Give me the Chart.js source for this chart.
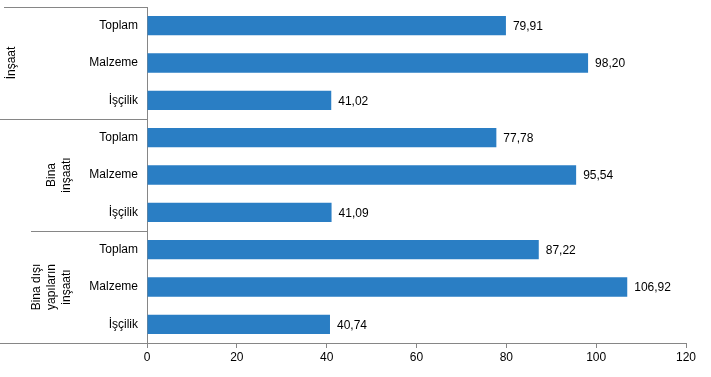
<!DOCTYPE html>
<html>
<head>
<meta charset="utf-8">
<script src="https://cdn.jsdelivr.net/npm/chart.js@4/dist/chart.umd.min.js"></script>
<style>
html,body{margin:0;padding:0;background:#fff}
#wrap{width:711px;height:377px}
</style>
</head>
<body>
<div id="wrap"><canvas id="chart" width="711" height="377"></canvas></div>
<script>
// =============================
// DATA
// =============================

const items = ["Toplam","Malzeme","İşçilik"]
const groups = [["İnşaat"],["Bina","inşaatı"],["Bina dışı","yapıların","inşaatı"]]
const insaat = [79.91,98.20,41.02]
const bina = [77.78,95.54,41.09]
const binaDisi = [87.22,106.92,40.74]
const xTicks = [0,20,40,60,80,100,120]

const labels = [].concat(items,items,items)
const values = [].concat(insaat,bina,binaDisi)

const axisGray = "#868686"
const font = {family:"'Liberation Sans', Arial, sans-serif", size:12}


// =============================
// PLUGINS: value labels + group labels
// =============================

const valueLabels = {
id:"valueLabels",
afterDatasetsDraw(chart){
const ctx = chart.ctx
const meta = chart.getDatasetMeta(0)
ctx.save()
ctx.font = "12px " + font.family
ctx.fillStyle = "#000"
ctx.textBaseline = "middle"
ctx.textAlign = "left"
meta.data.forEach((bar,i)=>{
ctx.fillText(values[i].toFixed(2).replace(".",","), bar.x+7, bar.y+1)
})
ctx.restore()
}
}

const groupLabels = {
id:"groupLabels",
afterDraw(chart){
const ctx = chart.ctx
const area = chart.chartArea
const step = (area.bottom-area.top)/labels.length
const lineStart = [4,0,31,0]
const textX = [12,59,52]

ctx.save()
ctx.strokeStyle = axisGray
ctx.lineWidth = 1
for(let g=0; g<=groups.length; g++){
const yy = Math.round(area.top + g*items.length*step) + 0.5
ctx.beginPath()
ctx.moveTo(lineStart[g], yy)
ctx.lineTo(area.left, yy)
ctx.stroke()
}

ctx.font = "12px " + font.family
ctx.fillStyle = "#000"
ctx.textAlign = "center"
ctx.textBaseline = "middle"
groups.forEach((lines,g)=>{
const cy = area.top + (g*items.length + items.length/2)*step
const lh = 15
ctx.save()
ctx.translate(textX[g], cy)
ctx.rotate(-Math.PI/2)
lines.forEach((t,k)=>{
ctx.fillText(t, 0, (k-(lines.length-1)/2)*lh)
})
ctx.restore()
})
ctx.restore()
}
}


// =============================
// CHART
// =============================

new Chart(document.getElementById("chart"),{

type:"bar",

data:{
labels:labels,
datasets:[{
data:values,
backgroundColor:"#2a7ec4",
borderWidth:0,
categoryPercentage:1,
barPercentage:0.52
}]
},

options:{
responsive:false,
animation:false,
indexAxis:"y",
layout:{padding:{top:7,right:25,left:0,bottom:0}},
plugins:{
legend:{display:false},
tooltip:{enabled:false}
},
scales:{
x:{
min:0,
max:120,
afterBuildTicks(scale){
scale.ticks = xTicks.map(v=>({value:v}))
},
grid:{drawOnChartArea:false,drawTicks:true,tickLength:5,color:axisGray},
border:{display:true,color:axisGray},
ticks:{color:"#000",font:font,padding:2,maxRotation:0},
afterFit(scale){
scale.height = 34
scale.paddingLeft = 0
scale.paddingRight = 0
}
},
y:{
grid:{drawOnChartArea:false,drawTicks:false},
border:{display:true,color:axisGray},
ticks:{color:"#000",font:font,padding:9,autoSkip:false},
afterFit(scale){
scale.width = 147
scale.paddingTop = 0
scale.paddingBottom = 0
}
}
}
},

plugins:[valueLabels,groupLabels]

})
</script>
</body>
</html>
